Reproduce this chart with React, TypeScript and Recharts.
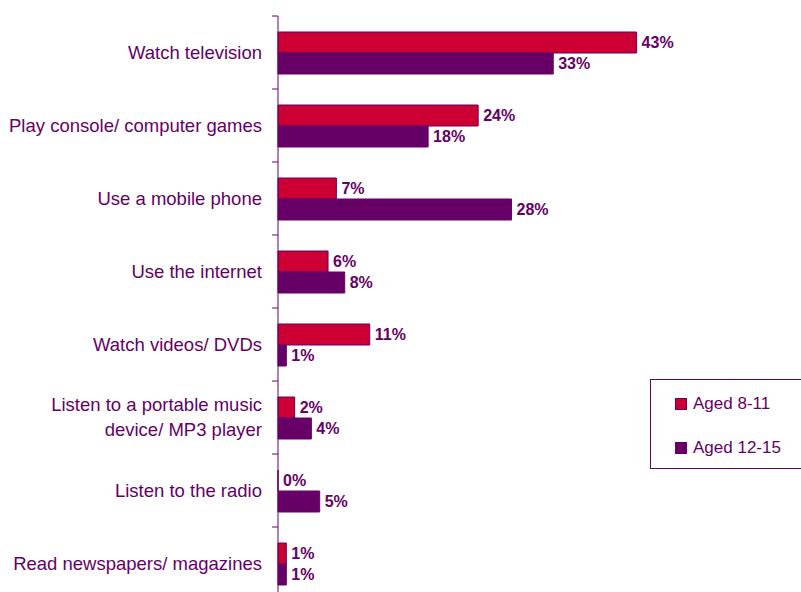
import { BarChart, Bar, XAxis, YAxis, Legend, LabelList } from "recharts";

// categories read top to bottom
const activities = [
  "Watch television",
  "Play console/ computer games",
  "Use a mobile phone",
  "Use the internet",
  "Watch videos/ DVDs",
  "Listen to a portable music\ndevice/ MP3 player",
  "Listen to the radio",
  "Read newspapers/ magazines",
];
const aged8to11 = [43, 24, 7, 6, 11, 2, 0, 1];
const aged12to15 = [33, 18, 28, 8, 1, 4, 5, 1];
const seriesNames = ["Aged 8-11", "Aged 12-15"];

const data = activities.map((name, i) => ({
  name,
  young: aged8to11[i],
  older: aged12to15[i],
}));

const PURPLE = "#660066";
const RED = "#CC0033";
const FONT = "'Liberation Sans', Arial, sans-serif";

const CategoryTick = (props: any) => {
  const { x, y, payload, index, visibleTicksCount } = props;
  const half = payload.offset ?? 36.5;
  const axisX = x + 16;
  const lines = String(payload.value).split("\n");
  const lh = 25;
  const start = -((lines.length - 1) * lh) / 2;
  return (
    <g>
      <line x1={axisX - 6} x2={axisX} y1={y - half} y2={y - half} stroke={PURPLE} />
      {index === visibleTicksCount - 1 && (
        <line x1={axisX - 6} x2={axisX} y1={y + half} y2={y + half} stroke={PURPLE} />
      )}
      <text x={x} y={y} textAnchor="end" fill={PURPLE} fontSize={18.5} fontFamily={FONT}>
        {lines.map((l, i) => (
          <tspan key={i} x={x} dy={i === 0 ? start + 6 : lh}>
            {l}
          </tspan>
        ))}
      </text>
    </g>
  );
};

const LegendBox = (props: any) => {
  const items = [...(props.payload || [])].sort(
    (a: any, b: any) => seriesNames.indexOf(a.value) - seriesNames.indexOf(b.value)
  );
  return (
    <div
      style={{
        border: `1px solid ${PURPLE}`,
        width: "100%",
        height: "100%",
        boxSizing: "border-box",
        paddingTop: 14,
        fontFamily: FONT,
      }}
    >
      {items.map((it: any) => (
        <div
          key={it.value}
          style={{ display: "flex", alignItems: "center", height: 20, marginBottom: 24, paddingLeft: 24 }}
        >
          <span
            style={{
              width: 12,
              height: 12,
              background: it.color,
              border: `1px solid ${PURPLE}`,
              boxSizing: "border-box",
              marginRight: 6,
              display: "inline-block",
            }}
          />
          <span style={{ color: PURPLE, fontSize: 17 }}>{it.value}</span>
        </div>
      ))}
    </div>
  );
};

const zeroVisible = (value: any) => (value === 0 ? 0.01 : 0);

export default function App() {
  return (
    <div
      style={{
        position: "fixed",
        top: 0,
        left: 0,
        width: 801,
        height: 592,
        overflow: "hidden",
        background: "#fff",
      }}
    >
      <BarChart
        width={801}
        height={610}
        data={data}
        layout="vertical"
        margin={{ top: 16, right: 106, bottom: 10, left: 0 }}
        barGap={0}
        barSize={21}
      >
        <XAxis type="number" domain={[0, 50]} hide />
        <YAxis
          type="category"
          dataKey="name"
          width={278}
          axisLine={{ stroke: PURPLE }}
          tickLine={false}
          tickSize={6}
          tickMargin={10}
          interval={0}
          tick={<CategoryTick />}
        />
        <Legend
          layout="vertical"
          align="center"
          verticalAlign="middle"
          wrapperStyle={{ left: 650, top: 379, width: 160, height: 90 }}
          content={<LegendBox />}
        />
        <Bar
          dataKey="young"
          name={seriesNames[0]}
          fill={RED}
          stroke={PURPLE}
          strokeWidth={1}
          minPointSize={zeroVisible}
          isAnimationActive={false}
        >
          <LabelList
            dataKey="young"
            position="right"
            formatter={(v: any) => `${v}%`}
            fill={PURPLE}
            fontSize={16}
            fontWeight="bold"
            fontFamily={FONT}
          />
        </Bar>
        <Bar
          dataKey="older"
          name={seriesNames[1]}
          fill={PURPLE}
          stroke={PURPLE}
          strokeWidth={1}
          isAnimationActive={false}
        >
          <LabelList
            dataKey="older"
            position="right"
            formatter={(v: any) => `${v}%`}
            fill={PURPLE}
            fontSize={16}
            fontWeight="bold"
            fontFamily={FONT}
          />
        </Bar>
      </BarChart>
    </div>
  );
}
